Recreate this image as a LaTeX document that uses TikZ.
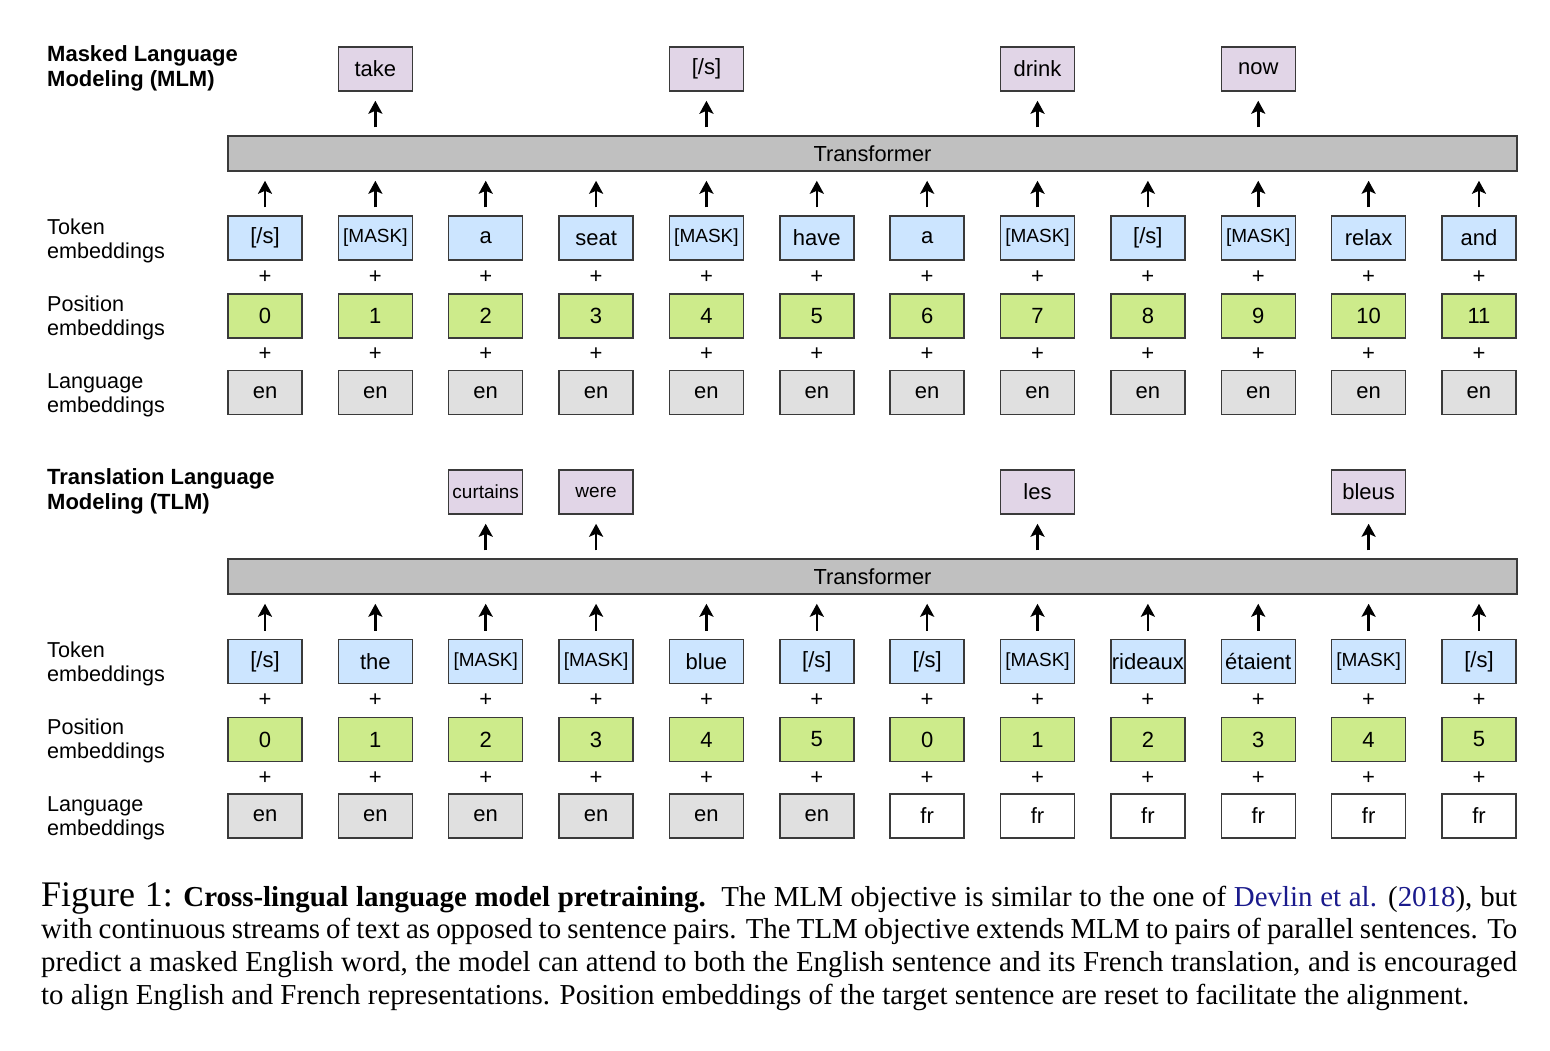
\documentclass[tikz,border=0pt]{standalone}
\usepackage{fontspec}
\setmainfont{Liberation Serif}
\setsansfont{Liberation Sans}
\usetikzlibrary{positioning,arrows.meta,calc}

\definecolor{borde}{HTML}{3A3A3A}
\definecolor{salida}{HTML}{E1D5E7}
\definecolor{token}{HTML}{CCE5FF}
\definecolor{posic}{HTML}{CDEB8B}
\definecolor{idioma}{HTML}{E0E0E0}
\definecolor{trans}{HTML}{C0C0C0}
\definecolor{cita}{HTML}{1A1A8C}

\newcommand{\msk}{{\fontsize{19}{20}\selectfont[MASK]}}
\newcommand{\chico}[1]{{\fontsize{19}{20}\selectfont #1}}

\begin{document}
\begin{tikzpicture}[x=1pt, y=-1pt,
  font=\sffamily\fontsize{21.6}{24}\selectfont,
  caja/.style={draw=borde, line width=1.5pt, minimum width=74pt,
    minimum height=44pt, inner sep=1pt,
    font=\sffamily\fontsize{22}{24}\selectfont},
  salidab/.style={caja, fill=salida},
  tokb/.style={caja, fill=token},
  posb/.style={caja, fill=posic},
  idiomab/.style={caja, fill=idioma},
  frb/.style={caja, fill=white},
  transf/.style={draw=borde, line width=1.5pt, fill=trans, inner sep=0pt,
    minimum width=1289pt, minimum height=35pt,
    font=\sffamily\fontsize{21.8}{24}\selectfont},
  flujo/.style={-{Stealth[length=13pt, width=14pt, inset=3pt]},
    line width=2.6pt, shorten <=8pt, shorten >=9pt},
  mas/.style={inner sep=0pt, font=\sffamily\fontsize{22}{22}\selectfont},
  etiq/.style={anchor=west, align=left, inner sep=0pt},
  titulo/.style={etiq, font=\sffamily\bfseries\fontsize{22}{25}\selectfont}]
\useasboundingbox (0,0) rectangle (1550,1050);
\def\paso{110.36}
% Bloque MLM
\node[titulo] (m-tit) at (47,68.5) {Masked Language\\Modeling (MLM)};
\node[etiq] (m-etok) at (47,240.5) {Token\\embeddings};
\node[etiq] (m-epos) at (47,318) {Position\\embeddings};
\node[etiq] (m-elen) at (47,395) {Language\\embeddings};
\node[transf] (m-tf) at (872.5,153.5) {Transformer};
\foreach \w [count=\i from 0] in {{[/s]},\msk,a,seat,\msk,have,a,\msk,{[/s]},\msk,relax,and}{
  \node[tokb] (m-tok-\i) at (265+\i*\paso,238) {\w};
  \node[posb] (m-pos-\i) at (265+\i*\paso,316) {\i};
  \node[idiomab] (m-len-\i) at (265+\i*\paso,392.5) {en};
  \node[mas] (m-ma-\i) at ($(m-tok-\i)!0.5!(m-pos-\i)$) {+};
  \node[mas] (m-mb-\i) at ($(m-pos-\i)!0.5!(m-len-\i)$) {+};
  \draw[flujo] (m-tok-\i) -- (m-tok-\i |- m-tf.south);
}
\foreach \c/\w in {1/take,4/{[/s]},7/drink,9/now}{
  \node[salidab] (m-sal-\c) at (265+\c*\paso,69) {\w};
  \draw[flujo] (m-sal-\c |- m-tf.north) -- (m-sal-\c);
}
% Bloque TLM
\node[titulo] (t-tit) at (47,491.5) {Translation Language\\Modeling (TLM)};
\node[etiq] (t-etok) at (47,663.5) {Token\\embeddings};
\node[etiq] (t-epos) at (47,741) {Position\\embeddings};
\node[etiq] (t-elen) at (47,818) {Language\\embeddings};
\node[transf] (t-tf) at (872.5,576.5) {Transformer};
\foreach \w [count=\i from 0] in {{[/s]},the,\msk,\msk,blue,{[/s]},{[/s]},\msk,rideaux,étaient,\msk,{[/s]}}{
  \pgfmathtruncatemacro\p{mod(\i,6)}
  \ifnum\i<6 \def\len{en}\def\est{idiomab}\else \def\len{fr}\def\est{frb}\fi
  \node[tokb] (t-tok-\i) at (265+\i*\paso,661.5) {\w};
  \node[posb] (t-pos-\i) at (265+\i*\paso,739.5) {\p};
  \node[\est] (t-len-\i) at (265+\i*\paso,816) {\len};
  \node[mas] (t-ma-\i) at ($(t-tok-\i)!0.5!(t-pos-\i)$) {+};
  \node[mas] (t-mb-\i) at ($(t-pos-\i)!0.5!(t-len-\i)$) {+};
  \draw[flujo] (t-tok-\i) -- (t-tok-\i |- t-tf.south);
}
\foreach \c/\w in {2/\chico{curtains},3/\chico{were},7/les,10/bleus}{
  \node[salidab] (t-sal-\c) at (265+\c*\paso,492) {\w};
  \draw[flujo] (t-sal-\c |- t-tf.north) -- (t-sal-\c);
}
% Leyenda
\node[anchor=north west, inner sep=0pt, text width=1476pt, align=justify,
  font=\rmfamily\fontsize{28.9}{32.7}\selectfont] (leyenda) at (41,882)
  {{\fontsize{36}{33}\selectfont Figure 1:} \textbf{Cross-lingual language model pretraining.}\ \ The MLM objective is similar to the one of \textcolor{cita}{Devlin et al.} (\textcolor{cita}{2018}), but\linebreak
  with continuous streams of text as opposed to sentence pairs. The TLM objective extends MLM to pairs of parallel sentences. To\linebreak
  predict a masked English word, the model can attend to both the English sentence and its French translation, and is encouraged\linebreak
  to align English and French representations. Position embeddings of the target sentence are reset to facilitate the alignment.};
\end{tikzpicture}
\end{document}
